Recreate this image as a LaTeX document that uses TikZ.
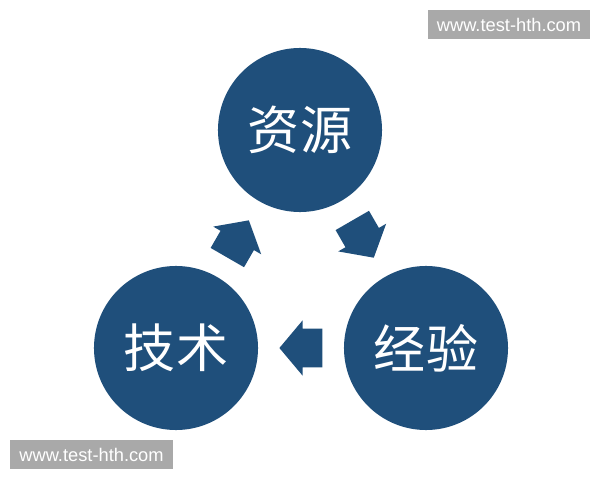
\documentclass[tikz,border=0pt]{standalone}
\usepackage{fontspec}
\newfontfamily\cjk{Noto Sans CJK SC}
\setsansfont{Liberation Sans}
\usetikzlibrary{shapes.arrows,calc}
\definecolor{darkblue}{RGB}{31,79,123}
\definecolor{markgray}{RGB}{169,169,169}
\begin{document}
\begin{tikzpicture}[x=0.025cm,y=-0.025cm,
  ball/.style={circle,fill=darkblue,minimum size=4.1cm,inner sep=0pt,
    text=white,font=\cjk\fontsize{37}{40}\selectfont},
  turn/.style={single arrow,fill=darkblue,inner xsep=0pt,inner ysep=0.475cm,
    minimum height=1.075cm,minimum width=1.375cm,
    single arrow head extend=0.21cm,single arrow tip angle=100},
  wmark/.style={fill=markgray,text=white,inner sep=0pt,
    minimum width=4.05cm,minimum height=0.725cm,
    font=\sffamily\fontsize{13}{15}\selectfont}]
\useasboundingbox (0,0) rectangle (600,480);
%\draw [lightgray](0,0) grid[step=50] (600,480);

% the three circles
\node [ball] (res)  at (300,130) {资源};
\node [ball] (tech) at (176,348) {技术};
\node [ball] (exp)  at (426,348) {经验};

% arrows between them
\node [turn, rotate=60]  (a1) at ($(res)!0.5!(tech)!0.2cm!(tech)$) {};
\node [turn, rotate=-60] (a2) at ($(exp)!0.5!(res)!0.2cm!(res)$)   {};
\node [turn, rotate=180] (a3) at ($(tech)!0.5!(exp)!0.2cm!(exp)$)  {};

% watermarks
\node [wmark] (wm1) at (509,24.5)  {www.test-hth.com};
\node [wmark] (wm2) at (91.5,454.5) {www.test-hth.com};
\end{tikzpicture}
\end{document}
